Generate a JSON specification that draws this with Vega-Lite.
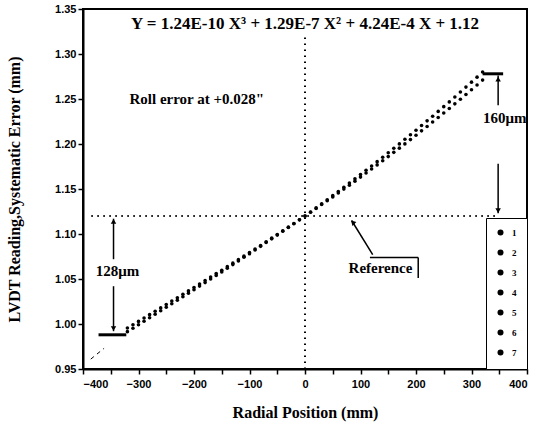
{
  "$schema": "https://vega.github.io/schema/vega-lite/v6.json",
  "width": 444,
  "height": 360,
  "autosize": "none",
  "padding": {"left": 83, "top": 9, "right": 20, "bottom": 58},
  "background": "white",
  "config": {
    "view": {"stroke": "black", "strokeWidth": 2},
    "axis": {
      "domainColor": "black", "domainWidth": 2, "tickColor": "black", "tickWidth": 1.5,
      "labelFont": "Liberation Sans", "labelFontWeight": "bold", "labelFontSize": 11, "labelColor": "black",
      "titleFont": "Liberation Serif", "titleFontWeight": "bold", "titleFontSize": 16, "titleColor": "black",
      "grid": false
    },
    "axisX": {"titlePadding": 15, "labelPadding": 4},
    "axisY": {"titleX": -61}
  },
  "datasets": {
    "pts": [
      {"x":-320,"y":0.9955,"s":"1"},{"x":-310,"y":0.9992,"s":"2"},{"x":-300,"y":1.0029,"s":"3"},{"x":-290,"y":1.0067,"s":"4"},{"x":-280,"y":1.0104,"s":"5"},{"x":-270,"y":1.0142,"s":"6"},{"x":-260,"y":1.0179,"s":"7"},
      {"x":-250,"y":1.0217,"s":"1"},{"x":-240,"y":1.0255,"s":"2"},{"x":-230,"y":1.0292,"s":"3"},{"x":-220,"y":1.0330,"s":"4"},{"x":-210,"y":1.0368,"s":"5"},{"x":-200,"y":1.0406,"s":"6"},{"x":-190,"y":1.0444,"s":"7"},
      {"x":-180,"y":1.0483,"s":"1"},{"x":-170,"y":1.0521,"s":"2"},{"x":-160,"y":1.0560,"s":"3"},{"x":-150,"y":1.0598,"s":"4"},{"x":-140,"y":1.0637,"s":"5"},{"x":-130,"y":1.0676,"s":"6"},{"x":-120,"y":1.0715,"s":"7"},
      {"x":-110,"y":1.0754,"s":"1"},{"x":-100,"y":1.0794,"s":"2"},{"x":-90,"y":1.0834,"s":"3"},{"x":-80,"y":1.0873,"s":"4"},{"x":-70,"y":1.0914,"s":"5"},{"x":-60,"y":1.0954,"s":"6"},{"x":-50,"y":1.0994,"s":"7"},
      {"x":-40,"y":1.1035,"s":"1"},{"x":-30,"y":1.1076,"s":"2"},{"x":-20,"y":1.1117,"s":"3"},{"x":-10,"y":1.1158,"s":"4"},{"x":0,"y":1.1200,"s":"5"},{"x":10,"y":1.1245,"s":"6"},{"x":20,"y":1.1290,"s":"7"},
      {"x":30,"y":1.1335,"s":"1"},{"x":40,"y":1.1381,"s":"2"},{"x":50,"y":1.1426,"s":"3"},{"x":60,"y":1.1472,"s":"4"},{"x":70,"y":1.1519,"s":"5"},{"x":80,"y":1.1566,"s":"6"},{"x":90,"y":1.1613,"s":"7"},
      {"x":100,"y":1.1660,"s":"1"},{"x":110,"y":1.1708,"s":"2"},{"x":120,"y":1.1756,"s":"3"},{"x":130,"y":1.1804,"s":"4"},{"x":140,"y":1.1853,"s":"5"},{"x":150,"y":1.1902,"s":"6"},{"x":160,"y":1.1952,"s":"7"},
      {"x":170,"y":1.2001,"s":"1"},{"x":180,"y":1.2052,"s":"2"},{"x":190,"y":1.2102,"s":"3"},{"x":200,"y":1.2153,"s":"4"},{"x":210,"y":1.2205,"s":"5"},{"x":220,"y":1.2257,"s":"6"},{"x":230,"y":1.2309,"s":"7"},
      {"x":240,"y":1.2362,"s":"1"},{"x":250,"y":1.2415,"s":"2"},{"x":260,"y":1.2468,"s":"3"},{"x":270,"y":1.2522,"s":"4"},{"x":280,"y":1.2577,"s":"5"},{"x":290,"y":1.2632,"s":"6"},{"x":300,"y":1.2687,"s":"7"},
      {"x":310,"y":1.2743,"s":"1"},{"x":320,"y":1.2800,"s":"2"},
      {"x":-320,"y":0.9915,"s":"3"},{"x":-310,"y":0.9953,"s":"4"},{"x":-300,"y":0.9992,"s":"5"},{"x":-290,"y":1.0031,"s":"6"},{"x":-280,"y":1.0069,"s":"7"},{"x":-270,"y":1.0108,"s":"1"},{"x":-260,"y":1.0147,"s":"2"},
      {"x":-250,"y":1.0186,"s":"3"},{"x":-240,"y":1.0225,"s":"4"},{"x":-230,"y":1.0264,"s":"5"},{"x":-220,"y":1.0303,"s":"6"},{"x":-210,"y":1.0342,"s":"7"},{"x":-200,"y":1.0381,"s":"1"},{"x":-190,"y":1.0421,"s":"2"},
      {"x":-180,"y":1.0460,"s":"3"},{"x":-170,"y":1.0500,"s":"4"},{"x":-160,"y":1.0540,"s":"5"},{"x":-150,"y":1.0579,"s":"6"},{"x":-140,"y":1.0619,"s":"7"},{"x":-130,"y":1.0660,"s":"1"},{"x":-120,"y":1.0700,"s":"2"},
      {"x":-110,"y":1.0741,"s":"3"},{"x":-100,"y":1.0781,"s":"4"},{"x":-90,"y":1.0822,"s":"5"},{"x":-80,"y":1.0863,"s":"6"},{"x":-70,"y":1.0905,"s":"7"},{"x":-60,"y":1.0946,"s":"1"},{"x":-50,"y":1.0988,"s":"2"},
      {"x":-40,"y":1.1030,"s":"3"},{"x":-30,"y":1.1072,"s":"4"},{"x":-20,"y":1.1114,"s":"5"},{"x":-10,"y":1.1157,"s":"6"},{"x":0,"y":1.1200,"s":"7"},{"x":10,"y":1.1242,"s":"1"},{"x":20,"y":1.1284,"s":"2"},
      {"x":30,"y":1.1327,"s":"3"},{"x":40,"y":1.1369,"s":"4"},{"x":50,"y":1.1412,"s":"5"},{"x":60,"y":1.1456,"s":"6"},{"x":70,"y":1.1499,"s":"7"},{"x":80,"y":1.1543,"s":"1"},{"x":90,"y":1.1587,"s":"2"},
      {"x":100,"y":1.1632,"s":"3"},{"x":110,"y":1.1677,"s":"4"},{"x":120,"y":1.1722,"s":"5"},{"x":130,"y":1.1768,"s":"6"},{"x":140,"y":1.1814,"s":"7"},{"x":150,"y":1.1860,"s":"1"},{"x":160,"y":1.1907,"s":"2"},
      {"x":170,"y":1.1954,"s":"3"},{"x":180,"y":1.2001,"s":"4"},{"x":190,"y":1.2049,"s":"5"},{"x":200,"y":1.2097,"s":"6"},{"x":210,"y":1.2146,"s":"7"},{"x":220,"y":1.2195,"s":"1"},{"x":230,"y":1.2244,"s":"2"},
      {"x":240,"y":1.2294,"s":"3"},{"x":250,"y":1.2344,"s":"4"},{"x":260,"y":1.2395,"s":"5"},{"x":270,"y":1.2446,"s":"6"},{"x":280,"y":1.2498,"s":"7"},{"x":290,"y":1.2550,"s":"1"},{"x":300,"y":1.2603,"s":"2"},
      {"x":310,"y":1.2656,"s":"3"},{"x":320,"y":1.2710,"s":"4"}
    ],
    "dotted": [
      {"x":0,"x2":0,"y":0.95,"y2":1.322},
      {"x":-385,"x2":345,"y":1.12,"y2":1.12}
    ],
    "solid": [
      {"x":-345,"x2":-345,"y":1.117,"y2":1.072,"w":"thin"},
      {"x":-345,"x2":-345,"y":1.042,"y2":0.992,"w":"thin"},
      {"x":-372,"x2":-322,"y":0.988,"y2":0.988,"w":"thick"},
      {"x":320,"x2":357,"y":1.278,"y2":1.278,"w":"thick"},
      {"x":348,"x2":348,"y":1.276,"y2":1.243,"w":"thin"},
      {"x":348,"x2":348,"y":1.178,"y2":1.123,"w":"thin"},
      {"x":122,"x2":84,"y":1.077,"y2":1.115,"w":"thin"},
      {"x":117,"x2":204,"y":1.074,"y2":1.074,"w":"thin"},
      {"x":204,"x2":204,"y":1.074,"y2":1.051,"w":"thin"}
    ],
    "dashed": [
      {"x":-386,"x2":-362,"y":0.961,"y2":0.973}
    ],
    "heads": [
      {"x":-345,"y":1.114,"shape":"triangle-up","a":0},
      {"x":-345,"y":0.995,"shape":"triangle-down","a":0},
      {"x":348,"y":1.272,"shape":"triangle-up","a":0},
      {"x":348,"y":1.126,"shape":"triangle-down","a":0},
      {"x":86,"y":1.113,"shape":"triangle-up","a":-45}
    ],
    "labels": [
      {"x":0,"y":1.333,"t":"Y = 1.24E-10 X³ + 1.29E-7 X² + 4.24E-4 X + 1.12","k":"eq"},
      {"x":-195,"y":1.25,"t":"Roll error at +0.028\"","k":"note"},
      {"x":-338,"y":1.059,"t":"128μm","k":"note"},
      {"x":360,"y":1.229,"t":"160μm","k":"note"},
      {"x":136,"y":1.062,"t":"Reference","k":"note"}
    ]
  },
  "layer": [
    {
      "data": {"name": "dotted"},
      "mark": {"type": "rule", "color": "black", "strokeWidth": 2, "strokeDash": [1.5, 4.5]},
      "encoding": {
        "x": {"field": "x", "type": "quantitative", "scale": {"domain": [-400, 400], "nice": false},
          "title": "Radial Position (mm)",
          "values": [-400,-350,-300,-250,-200,-150,-100,-50,0,50,100,150,200,250,300,350,400],
          "labelExpr": "datum.value % 100 === 0 ? datum.label : ''",
          "tickSize": {"condition": {"test": "datum.value % 100 !== 0", "value": 3}, "value": 6}},
        "x2": {"field": "x2"},
        "y": {"field": "y", "type": "quantitative", "scale": {"domain": [0.95, 1.35], "nice": false, "zero": false},
          "title": "LVDT Reading,Systematic Error (mm)",
          "values": [0.95,0.975,1.0,1.025,1.05,1.075,1.1,1.125,1.15,1.175,1.2,1.225,1.25,1.275,1.3,1.325,1.35],
          "labelExpr": "round(datum.value*1000) % 50 === 0 ? format(datum.value, '.2f') : ''",
          "tickSize": {"condition": {"test": "round(datum.value*1000) % 50 !== 0", "value": 3}, "value": 6}},
        "y2": {"field": "y2"}
      }
    },
    {
      "data": {"name": "pts"},
      "mark": {"type": "point", "filled": true, "color": "black", "size": 13, "opacity": 1},
      "encoding": {
        "x": {"field": "x", "type": "quantitative"},
        "y": {"field": "y", "type": "quantitative"},
        "shape": {"field": "s", "type": "nominal",
          "scale": {"domain": ["1","2","3","4","5","6","7"], "range": ["circle","circle","circle","circle","circle","circle","circle"]},
          "legend": {"title": null, "orient": "bottom-right", "offset": 0, "padding": 10, "fillColor": "white",
            "strokeColor": "black", "symbolSize": 36, "symbolFillColor": "black", "symbolStrokeColor": "black",
            "labelFont": "Liberation Serif", "labelFontWeight": "bold", "labelFontSize": 9, "labelColor": "black",
            "rowPadding": 7, "labelOffset": 7}}
      }
    },
    {
      "data": {"name": "solid"},
      "mark": {"type": "rule", "color": "black"},
      "encoding": {
        "x": {"field": "x", "type": "quantitative"},
        "x2": {"field": "x2"},
        "y": {"field": "y", "type": "quantitative"},
        "y2": {"field": "y2"},
        "strokeWidth": {"field": "w", "type": "nominal", "scale": {"domain": ["thin", "thick"], "range": [1.5, 3]}, "legend": null}
      }
    },
    {
      "data": {"name": "dashed"},
      "mark": {"type": "rule", "color": "black", "strokeWidth": 1, "strokeDash": [4, 4]},
      "encoding": {
        "x": {"field": "x", "type": "quantitative"},
        "x2": {"field": "x2"},
        "y": {"field": "y", "type": "quantitative"},
        "y2": {"field": "y2"}
      }
    },
    {
      "data": {"name": "heads"},
      "mark": {"type": "point", "filled": true, "color": "black", "size": 30, "opacity": 1},
      "encoding": {
        "x": {"field": "x", "type": "quantitative"},
        "y": {"field": "y", "type": "quantitative"},
        "shape": {"field": "shape", "type": "nominal", "scale": null},
        "angle": {"field": "a", "type": "quantitative", "scale": null}
      }
    },
    {
      "data": {"name": "labels"},
      "mark": {"type": "text", "font": "Liberation Serif", "fontWeight": "bold", "color": "black", "align": "center", "baseline": "middle"},
      "encoding": {
        "x": {"field": "x", "type": "quantitative"},
        "y": {"field": "y", "type": "quantitative"},
        "text": {"field": "t"},
        "size": {"field": "k", "type": "nominal", "scale": {"domain": ["eq", "note"], "range": [17, 15]}, "legend": null}
      }
    }
  ]
}
